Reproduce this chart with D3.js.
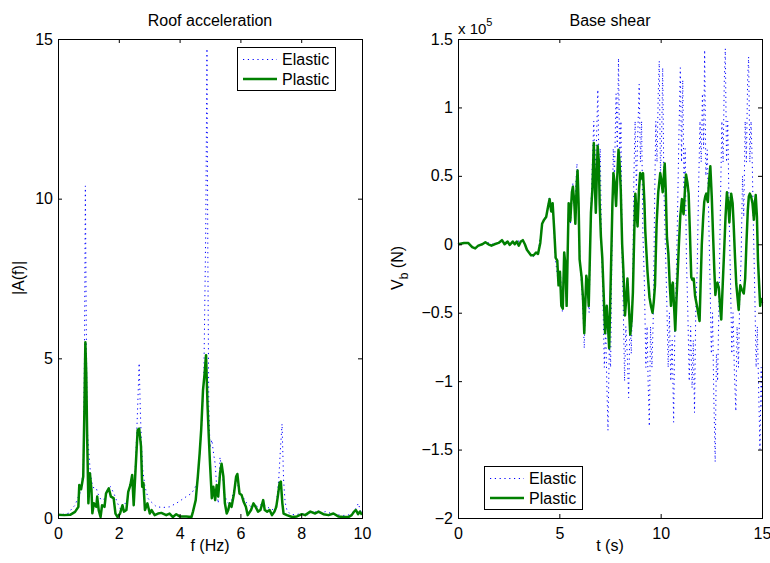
<!DOCTYPE html>
<html>
<head>
<meta charset="utf-8">
<script src="https://cdn.jsdelivr.net/npm/d3@7"></script>
<style>
  body { margin: 0; background: #fff; }
  text { font-family: "Liberation Sans", Arial, Helvetica, sans-serif; }
</style>
</head>
<body>
<svg id="chart" width="770" height="563"></svg>
<script>
// Series names and colours (Elastic dotted blue, Plastic solid green)
const seriesNames = ["Elastic", "Plastic"];
const seriesColors = ["#0000ff", "#008000"];

// Tick values
const freqTicks = [0, 2, 4, 6, 8, 10];
const ampTicks = [0, 5, 10, 15];
const timeTicks = [0, 5, 10, 15];
const shearTicks = [-2, -1.5, -1, -0.5, 0, 0.5, 1, 1.5];

// Roof acceleration spectrum: [f (Hz), |A(f)|]
const elasticSpectrum = [
  [0, 0.1], [0.2, 0.12], [0.35, 0.15], [0.46, 0.3], [0.56, 0.4], [0.64, 0.6], [0.72, 0.77],
  [0.78, 1.1], [0.83, 1.5], [0.87, 5.0], [0.9, 10.4], [0.93, 6.0], [0.96, 2.8], [1.0, 2.24],
  [1.05, 1.6], [1.1, 1.15], [1.18, 0.93], [1.26, 0.93], [1.31, 0.77], [1.42, 0.56], [1.53, 0.6],
  [1.64, 0.93], [1.73, 0.98], [1.86, 0.72], [1.96, 0.46], [2.07, 0.25], [2.17, 0.4], [2.28, 0.56],
  [2.38, 1.15], [2.44, 1.4], [2.49, 0.87], [2.55, 1.7], [2.61, 3.2], [2.67, 4.85], [2.71, 3.3],
  [2.75, 2.2], [2.79, 1.5], [2.86, 0.98], [2.97, 0.6], [3.07, 0.5], [3.24, 0.35], [3.46, 0.33],
  [3.67, 0.35], [3.89, 0.46], [4.05, 0.56], [4.22, 0.67], [4.39, 0.77], [4.5, 0.93], [4.6, 1.2],
  [4.66, 2.0], [4.74, 3.1], [4.8, 4.6], [4.86, 9.0], [4.9, 14.7], [4.93, 8.0], [4.96, 3.5],
  [5.0, 2.2], [5.06, 2.45], [5.12, 2.0], [5.17, 1.7], [5.22, 0.98], [5.27, 0.46], [5.33, 1.9],
  [5.38, 1.6], [5.44, 1.1], [5.49, 0.67], [5.6, 0.46], [5.71, 0.56], [5.81, 0.98], [5.86, 1.3],
  [5.95, 0.87], [6.08, 0.67], [6.18, 0.5], [6.35, 0.35], [6.46, 0.45], [6.57, 0.35], [6.73, 0.46],
  [6.88, 0.35], [7.04, 0.25], [7.18, 0.4], [7.26, 1.2], [7.32, 2.2], [7.37, 2.95], [7.42, 1.2],
  [7.47, 0.5], [7.53, 0.25], [7.64, 0.12], [7.8, 0.1], [8.0, 0.14], [8.2, 0.1], [8.4, 0.22],
  [8.6, 0.15], [8.8, 0.2], [9.0, 0.14], [9.2, 0.1], [9.4, 0.08], [9.6, 0.1], [9.77, 0.25],
  [9.88, 0.46], [9.94, 0.25], [10, 0.15]
];
const plasticSpectrum = [
  [0, 0.1], [0.2, 0.09], [0.4, 0.1], [0.56, 0.19], [0.67, 0.35], [0.7, 1.03], [0.76, 0.9],
  [0.83, 1.3], [0.87, 3.5], [0.9, 5.5], [0.93, 4.5], [0.96, 2.5], [1.0, 0.46], [1.05, 1.4],
  [1.1, 0.9], [1.13, 0.15], [1.18, 0.46], [1.26, 0.35], [1.29, 0.67], [1.34, 0.24], [1.4, 0.03],
  [1.45, 0.4], [1.53, 0.35], [1.58, 0.77], [1.67, 0.93], [1.74, 0.67], [1.83, 0.62], [1.89, 0.14],
  [1.96, 0.03], [2.04, 0.14], [2.12, 0.4], [2.17, 0.2], [2.25, 0.25], [2.31, 0.82], [2.38, 1.03],
  [2.44, 1.35], [2.49, 0.4], [2.55, 1.5], [2.62, 2.75], [2.67, 2.8], [2.73, 2.25], [2.77, 0.98],
  [2.81, 1.1], [2.86, 0.25], [2.94, 0.46], [3.02, 0.14], [3.08, 0.25], [3.18, 0.09], [3.29, 0.14],
  [3.4, 0.16], [3.56, 0.09], [3.67, 0.14], [3.78, 0.03], [3.89, 0.12], [4.0, 0.05], [4.22, 0.05],
  [4.39, 0.03], [4.44, 0.2], [4.53, 0.56], [4.6, 1.3], [4.66, 2.03], [4.71, 2.76], [4.77, 4.0],
  [4.82, 4.5], [4.87, 5.1], [4.92, 3.5], [4.96, 2.55], [5.0, 1.71], [5.06, 0.62], [5.11, 0.98],
  [5.17, 0.56], [5.22, 1.03], [5.27, 0.67], [5.33, 1.4], [5.38, 1.7], [5.44, 1.3], [5.49, 0.46],
  [5.55, 0.14], [5.6, 0.25], [5.65, 0.46], [5.71, 0.35], [5.79, 0.77], [5.86, 1.3], [5.9, 1.38],
  [5.97, 0.77], [6.04, 0.72], [6.11, 0.5], [6.18, 0.35], [6.24, 0.09], [6.35, 0.25], [6.43, 0.46],
  [6.5, 0.35], [6.58, 0.2], [6.66, 0.25], [6.75, 0.56], [6.8, 0.25], [6.88, 0.2], [6.96, 0.25],
  [7.04, 0.09], [7.12, 0.2], [7.18, 0.35], [7.23, 0.67], [7.29, 1.1], [7.33, 1.14], [7.38, 0.46],
  [7.42, 0.14], [7.53, 0.09], [7.7, 0.03], [7.86, 0.05], [8.02, 0.12], [8.13, 0.09], [8.3, 0.2],
  [8.46, 0.14], [8.57, 0.2], [8.73, 0.12], [8.9, 0.09], [9.06, 0.14], [9.22, 0.05], [9.39, 0.03],
  [9.55, 0.03], [9.66, 0.09], [9.74, 0.2], [9.8, 0.25], [9.87, 0.12], [9.93, 0.2], [10, 0.1]
];

// Base shear time history: [t (s), Vb (x 1e5 N)]
const elasticShear = [
  [0, 0], [0.3, 0.01], [0.5, 0.01], [0.85, -0.03], [1.35, 0.015], [1.8, 0], [2.17, 0.03],
  [2.55, -0.005], [2.9, 0.02], [3.2, 0.03], [3.5, -0.06], [3.73, -0.09], [3.95, -0.07],
  [4.15, 0.15], [4.35, 0.21], [4.52, 0.35], [4.6, 0.25], [4.67, 0.3], [4.8, -0.1], [4.96, -0.3],
  [5.05, -0.2], [5.15, -0.49], [5.24, -0.05], [5.36, -0.45], [5.46, 0.3], [5.55, 0.15],
  [5.67, 0.45], [5.75, 0.25], [5.87, 0.59], [5.95, 0.3], [6.02, -0.15], [6.1, -0.3], [6.17, -0.5],
  [6.23, -0.76], [6.3, -0.3], [6.4, -0.35], [6.47, -0.5], [6.56, 0.25], [6.63, 0.6], [6.7, 0.9],
  [6.76, 0.55], [6.83, 0.75], [6.9, 1.13], [6.96, 0.5], [7.02, 0.7], [7.08, 0], [7.15, -0.4],
  [7.22, -0.9], [7.29, -0.6], [7.34, -1.0], [7.4, -1.36], [7.47, -0.7], [7.53, -0.9], [7.6, 0],
  [7.66, 0.7], [7.72, 0.5], [7.8, 1.1], [7.86, 0.7], [7.92, 1.36], [7.98, 0.6], [8.04, 0.9],
  [8.1, -0.1], [8.16, -0.5], [8.22, -1.0], [8.28, -0.6], [8.35, -0.8], [8.42, -1.12], [8.49, -0.5],
  [8.55, -0.8], [8.62, -0.3], [8.68, 0.5], [8.74, 0.9], [8.8, 0.4], [8.87, 0.8], [8.94, 1.17],
  [9.0, 0.6], [9.06, 0.9], [9.12, 0.1], [9.2, -0.3], [9.27, -0.9], [9.33, -0.6], [9.38, -1.0],
  [9.44, -1.33], [9.5, -0.6], [9.57, -0.9], [9.64, -0.5], [9.7, 0.3], [9.76, 0.9], [9.82, 0.6],
  [9.88, 1.1], [9.93, 1.34], [9.99, 0.5], [10.05, 0.8], [10.1, 1.29], [10.16, 0.4], [10.23, 0],
  [10.3, -0.4], [10.37, -0.9], [10.43, -0.5], [10.5, -1.0], [10.57, -0.7], [10.64, -1.3],
  [10.7, -0.6], [10.76, -0.3], [10.83, 0.2], [10.9, 0.8], [10.97, 1.29], [11.03, 0.6], [11.09, 1.2],
  [11.15, 0.4], [11.21, 0.7], [11.27, -0.1], [11.34, -0.5], [11.41, -1.0], [11.48, -0.6],
  [11.55, -1.05], [11.61, -0.7], [11.67, -1.23], [11.73, -0.5], [11.8, -0.2], [11.87, 0.4],
  [11.94, 0.9], [12.0, 0.6], [12.06, 1.1], [12.12, 0.7], [12.17, 1.42], [12.23, 0.5], [12.3, 0.69],
  [12.37, 0.2], [12.44, -0.3], [12.5, -0.8], [12.56, -0.5], [12.62, -1.1], [12.69, -1.59],
  [12.75, -0.8], [12.81, -1.0], [12.88, -0.4], [12.95, 0.3], [13.02, 0.9], [13.08, 0.6],
  [13.14, 1.2], [13.19, 1.43], [13.25, 0.6], [13.31, 0.9], [13.38, 0.2], [13.45, -0.3],
  [13.51, -0.8], [13.57, -0.5], [13.64, -0.95], [13.71, -1.22], [13.77, -0.6], [13.84, -0.9],
  [13.9, -0.4], [13.97, -0.1], [14.04, 0.5], [14.1, 0.2], [14.17, 0.9], [14.23, 0.6], [14.29, 1.2],
  [14.34, 1.37], [14.4, 0.6], [14.46, 0.9], [14.52, 0.59], [14.58, 0.1], [14.65, -0.4],
  [14.71, -0.9], [14.77, -0.6], [14.84, -1.1], [14.9, -1.5], [14.96, -0.9], [15, -1.2]
];
const plasticShear = [
  [0, 0], [0.3, 0.01], [0.5, 0.01], [0.7, -0.02], [0.85, -0.03], [1.0, -0.01], [1.2, 0],
  [1.35, 0.015], [1.5, 0], [1.65, -0.01], [1.8, 0], [2.0, 0.01], [2.17, 0.03], [2.3, 0],
  [2.45, 0.02], [2.55, -0.005], [2.7, 0.02], [2.8, 0], [2.9, 0.02], [3.0, -0.01], [3.1, 0.02],
  [3.2, 0.03], [3.3, 0], [3.4, -0.04], [3.5, -0.06], [3.6, -0.08], [3.73, -0.08], [3.85, -0.06],
  [3.95, -0.07], [4.06, 0.01], [4.15, 0.15], [4.25, 0.18], [4.35, 0.2], [4.45, 0.28], [4.52, 0.33],
  [4.6, 0.24], [4.67, 0.3], [4.75, 0.1], [4.82, -0.1], [4.9, -0.12], [4.96, -0.3], [5.03, -0.2],
  [5.1, -0.45], [5.17, -0.47], [5.24, -0.06], [5.3, -0.15], [5.36, -0.45], [5.46, 0.3],
  [5.54, 0.17], [5.62, 0.38], [5.67, 0.42], [5.74, 0.3], [5.79, 0.15], [5.86, 0.45], [5.9, 0.54],
  [5.95, 0.3], [6.0, -0.11], [6.1, -0.24], [6.17, -0.4], [6.23, -0.65], [6.33, -0.23], [6.4, -0.3],
  [6.45, -0.45], [6.56, 0.23], [6.63, 0.4], [6.7, 0.74], [6.76, 0.4], [6.8, 0.23], [6.89, 0.72],
  [6.95, 0.6], [6.99, 0.3], [7.05, 0.06], [7.12, -0.1], [7.18, -0.33], [7.26, -0.65], [7.34, -0.45],
  [7.4, -0.6], [7.46, -0.76], [7.56, -0.1], [7.62, 0.3], [7.67, 0.52], [7.73, 0.45], [7.8, 0.28],
  [7.86, 0.5], [7.92, 0.69], [7.97, 0.6], [8.03, 0.4], [8.1, 0], [8.16, -0.19], [8.24, -0.52],
  [8.3, -0.4], [8.36, -0.25], [8.43, -0.45], [8.5, -0.66], [8.57, -0.55], [8.63, -0.35],
  [8.7, 0.1], [8.75, 0.37], [8.8, 0.25], [8.86, 0.13], [8.93, 0.4], [8.99, 0.52], [9.06, 0.48],
  [9.13, 0.52], [9.2, 0.3], [9.24, 0.1], [9.35, -0.2], [9.45, -0.39], [9.52, -0.45], [9.6, -0.5],
  [9.66, -0.42], [9.72, -0.3], [9.8, 0.15], [9.88, 0.38], [9.98, 0.52], [10.05, 0.45], [10.1, 0.38],
  [10.2, 0.59], [10.25, 0.4], [10.31, 0.05], [10.38, -0.07], [10.45, -0.3], [10.51, -0.45],
  [10.57, -0.3], [10.6, -0.28], [10.66, -0.45], [10.72, -0.63], [10.78, -0.4], [10.84, -0.21],
  [10.9, 0], [10.97, 0.21], [11.05, 0.33], [11.1, 0.25], [11.13, 0.22], [11.2, 0.4], [11.25, 0.51],
  [11.32, 0.45], [11.38, 0.37], [11.44, 0.1], [11.51, -0.24], [11.57, -0.26], [11.63, -0.25],
  [11.7, -0.38], [11.79, -0.45], [11.85, -0.5], [11.92, -0.56], [11.97, -0.3], [12.03, 0],
  [12.1, 0.2], [12.15, 0.31], [12.2, 0.35], [12.25, 0.37], [12.29, 0.33], [12.33, 0.31],
  [12.38, 0.45], [12.45, 0.57], [12.52, 0.35], [12.58, 0.09], [12.65, -0.2], [12.7, -0.37],
  [12.75, -0.3], [12.8, -0.28], [12.87, -0.32], [12.93, -0.45], [12.99, -0.55], [13.06, -0.3],
  [13.14, -0.02], [13.2, 0.2], [13.27, 0.38], [13.33, 0.3], [13.39, 0.16], [13.44, 0.3],
  [13.48, 0.37], [13.55, 0.3], [13.6, 0.15], [13.67, -0.1], [13.73, -0.29], [13.8, -0.4],
  [13.85, -0.48], [13.9, -0.35], [13.93, -0.3], [14.0, -0.33], [14.1, -0.36], [14.17, -0.25],
  [14.23, 0], [14.3, 0.25], [14.35, 0.35], [14.4, 0.37], [14.46, 0.35], [14.53, 0.3], [14.6, 0.18],
  [14.65, 0.3], [14.69, 0.36], [14.75, 0.2], [14.8, -0.11], [14.86, -0.3], [14.91, -0.45],
  [14.96, -0.4], [15, -0.43]
];

const svg = d3.select("#chart");
svg.append("rect").attr("width", 770).attr("height", 563).attr("fill", "#fff");

const plotTop = 39, plotBottom = 518;
const fontSize = 16;

// MATLAB style tick labels, with a real minus sign
function tickText(d) {
  return (d < 0 ? "\u2212" : "") + Math.abs(d);
}

function drawPanel(p) {
  const x = d3.scaleLinear().domain(p.xDomain).range([p.left, p.right]);
  const y = d3.scaleLinear().domain(p.yDomain).range([plotBottom, plotTop]);
  const g = svg.append("g");

  const line = d3.line().x(d => x(d[0])).y(d => y(d[1]));

  // elastic first, plastic drawn over it
  g.append("path")
    .datum(p.elastic)
    .attr("d", line)
    .attr("fill", "none")
    .attr("stroke", seriesColors[0])
    .attr("stroke-width", 1)
    .attr("stroke-dasharray", "1.2,3.6");

  g.append("path")
    .datum(p.plastic)
    .attr("d", line)
    .attr("fill", "none")
    .attr("stroke", seriesColors[1])
    .attr("stroke-width", 2.5)
    .attr("stroke-linejoin", "round");

  // axes with inward ticks on all four sides
  const styleAxis = sel => {
    sel.attr("font-size", fontSize).attr("font-family", null);
    sel.select(".domain").remove();
    sel.selectAll("line").attr("stroke", "#000");
    sel.selectAll("text").attr("fill", "#000");
  };
  g.append("g")
    .attr("transform", `translate(0,${plotBottom})`)
    .call(d3.axisBottom(x).tickValues(p.xTicks).tickSize(-4).tickPadding(10).tickFormat(tickText))
    .call(styleAxis);
  g.append("g")
    .attr("transform", `translate(0,${plotTop})`)
    .call(d3.axisTop(x).tickValues(p.xTicks).tickSize(-4).tickFormat(""))
    .call(styleAxis);
  g.append("g")
    .attr("transform", `translate(${p.left},0)`)
    .call(d3.axisLeft(y).tickValues(p.yTicks).tickSize(-4).tickPadding(5).tickFormat(tickText))
    .call(styleAxis);
  g.append("g")
    .attr("transform", `translate(${p.right},0)`)
    .call(d3.axisRight(y).tickValues(p.yTicks).tickSize(-4).tickFormat(""))
    .call(styleAxis);

  g.append("rect")
    .attr("x", p.left + 0.5)
    .attr("y", plotTop + 0.5)
    .attr("width", p.right - p.left)
    .attr("height", plotBottom - plotTop)
    .attr("fill", "none")
    .attr("stroke", "#000")
    .attr("stroke-width", 1);

  const cx = (p.left + p.right) / 2;

  // title
  g.append("text")
    .attr("x", cx)
    .attr("y", 26)
    .attr("text-anchor", "middle")
    .style("font-size", fontSize + "px")
    .text(p.title);

  // x label
  g.append("text")
    .attr("x", cx)
    .attr("y", 551)
    .attr("text-anchor", "middle")
    .style("font-size", fontSize + "px")
    .text(p.xLabel);

  // y label
  const yl = g.append("text")
    .attr("transform", `translate(${p.yLabelX},${p.yLabelY}) rotate(-90)`)
    .attr("text-anchor", "middle")
    .style("font-size", fontSize + "px");
  p.yLabel.forEach(part => {
    yl.append("tspan")
      .attr("dy", part.dy || 0)
      .style("font-size", part.size ? part.size + "px" : null)
      .text(part.text);
  });

  // legend
  const lg = g.append("g").attr("transform", `translate(${p.legend[0]},${p.legend[1]})`);
  lg.append("rect")
    .attr("x", 0.5).attr("y", 0.5)
    .attr("width", 98).attr("height", 43)
    .attr("fill", "#fff")
    .attr("stroke", "#000");
  seriesNames.forEach((name, i) => {
    const ry = 12.5 + i * 19.5;
    lg.append("line")
      .attr("x1", 6).attr("x2", 40)
      .attr("y1", ry).attr("y2", ry)
      .attr("stroke", seriesColors[i])
      .attr("stroke-width", i === 0 ? 1 : 2.5)
      .attr("stroke-dasharray", i === 0 ? "1.2,3.6" : null);
    lg.append("text")
      .attr("x", 45)
      .attr("y", ry)
      .attr("dy", "0.35em")
      .style("font-size", fontSize + "px")
      .text(name);
  });
  return g;
}

drawPanel({
  left: 58, right: 362,
  xDomain: [0, 10], yDomain: [0, 15],
  xTicks: freqTicks, yTicks: ampTicks,
  elastic: elasticSpectrum, plastic: plasticSpectrum,
  title: "Roof acceleration", xLabel: "f (Hz)",
  yLabel: [{ text: "|A(f)|" }],
  yLabelX: 24, yLabelY: 278,
  legend: [237, 47]
});

const right = drawPanel({
  left: 458, right: 762,
  xDomain: [0, 15], yDomain: [-2, 1.5],
  xTicks: timeTicks, yTicks: shearTicks,
  elastic: elasticShear, plastic: plasticShear,
  title: "Base shear", xLabel: "t (s)",
  yLabel: [{ text: "V" }, { text: "b", dy: 5, size: 12 }, { text: " (N)", dy: -5 }],
  yLabelX: 403, yLabelY: 268,
  legend: [484, 466]
});

// exponent label of the y axis
const expLabel = right.append("text")
  .attr("x", 458)
  .attr("y", 34)
  .style("font-size", "15px");
expLabel.append("tspan").text("x 10");
expLabel.append("tspan").attr("dy", -8).style("font-size", "11px").text("5");
</script>
</body>
</html>
